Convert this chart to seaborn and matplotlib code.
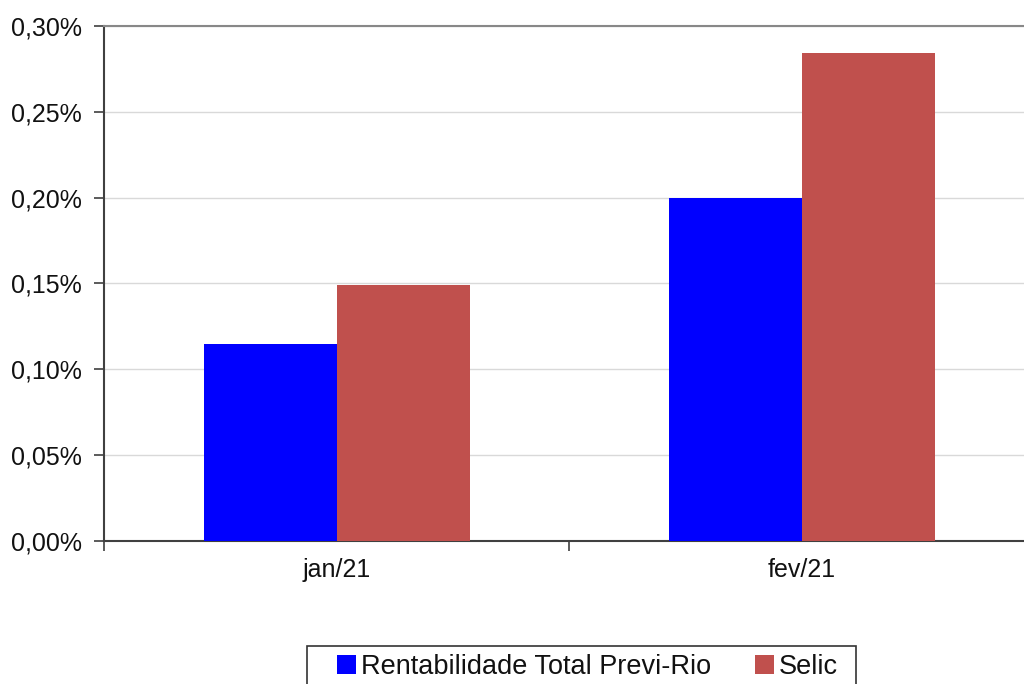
import matplotlib
matplotlib.use('Agg')
import matplotlib.pyplot as plt
import numpy as np
import pandas as pd
import seaborn as sns
from matplotlib.patches import Patch, Rectangle
from matplotlib.ticker import FuncFormatter, FixedLocator

# valores mensais (%)
meses = ['jan/21', 'fev/21']
previ_rio = [0.115, 0.200]
selic = [0.149, 0.284]
series = ['Rentabilidade Total Previ-Rio', 'Selic']
cores = {'Rentabilidade Total Previ-Rio': '#0000FF', 'Selic': '#C0504D'}

df = pd.DataFrame({
    'mes': meses * 2,
    'valor': previ_rio + selic,
    'serie': [series[0]] * len(meses) + [series[1]] * len(meses),
})

sns.set_theme(style='white')
plt.rcParams['font.family'] = ['Liberation Sans', 'DejaVu Sans']

fig = plt.figure(figsize=(10.24, 6.84), dpi=100)
ax = fig.add_axes([0.1016, 0.2091, 0.9082, 0.7529])

sns.barplot(data=df, x='mes', y='valor', hue='serie', palette=cores,
            width=0.572, gap=0, saturation=1, ax=ax, legend=False,
            linewidth=0, zorder=3)

ax.set_xlim(-0.5, 1.5)
ax.set_ylim(0, 0.30)
ax.set_yticks(np.arange(0, 0.301, 0.05))
ax.yaxis.set_major_formatter(FuncFormatter(lambda v, p: f'{v:.2f}%'.replace('.', ',')))
ax.yaxis.grid(True, color='#D9D9D9', linewidth=1, zorder=0)
ax.set_axisbelow(True)
ax.set_xlabel('')
ax.set_ylabel('')

ax.tick_params(axis='y', which='major', left=True, length=7, width=1.2,
               color='#404040', labelsize=18, pad=9, labelcolor='#111111')
ax.tick_params(axis='x', which='major', bottom=False, labelsize=18, pad=6,
               labelcolor='#111111')
ax.xaxis.set_minor_locator(FixedLocator([-0.5, 0.5, 1.5]))
ax.tick_params(axis='x', which='minor', bottom=True, length=7, width=1.2,
               color='#404040')

for s in ['left', 'bottom']:
    ax.spines[s].set_color('#404040')
    ax.spines[s].set_linewidth(1.5)
ax.spines['top'].set_color('#888888')
ax.spines['top'].set_linewidth(1.5)
ax.spines['right'].set_visible(False)

# legenda sem moldura + caixa desenhada à parte (cortada na base, como no original)
handles = [Patch(facecolor=cores[s], edgecolor='none', label=s) for s in series]
leg = fig.legend(handles=handles, loc='center left',
                 bbox_to_anchor=(337 / 1024, 1 - 667 / 684), ncol=2,
                 frameon=False, fontsize=19.5,
                 handlelength=0.7, handleheight=0.7, handletextpad=0.2,
                 columnspacing=1.6, borderpad=0, borderaxespad=0,
                 labelcolor='#111111')
fig.patches.append(Rectangle((307 / 1024, -0.05), (856 - 307) / 1024,
                             0.05 + 1 - 646 / 684, transform=fig.transFigure,
                             facecolor='none', edgecolor='#333333', linewidth=1.2))

fig.savefig('out.png', dpi=100)
